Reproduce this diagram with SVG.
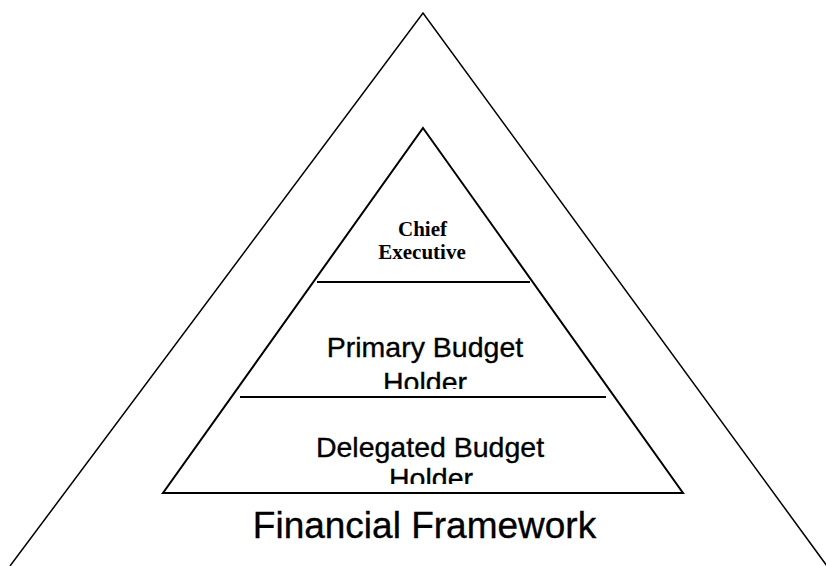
<svg xmlns="http://www.w3.org/2000/svg" width="826" height="566" viewBox="0 0 826 566">
  <style>
    .edge { fill: none; stroke: #000; stroke-linejoin: miter; }
    .outer { stroke-width: 1.5; }
    .inner { stroke-width: 2; }
    .divider { stroke: #000; stroke-width: 2; }
    .sans { font-family: "Liberation Sans", Arial, sans-serif; fill: #000; stroke: #000; stroke-width: 0.35; text-anchor: middle; }
    .serif { font-family: "Liberation Serif", "Times New Roman", serif; font-weight: bold; font-size: 21px; fill: #000; text-anchor: middle; }
    .tier { font-size: 28.5px; }
    .frame { font-size: 37px; }
  </style>
  <defs>
    <!-- the second line of each tier label is cut off just above the tier floor -->
    <clipPath id="clip-primary"><rect x="0" y="300" width="826" height="89"/></clipPath>
    <clipPath id="clip-delegated"><rect x="0" y="400" width="826" height="84"/></clipPath>
  </defs>
  <rect width="826" height="566" fill="#fff"/>

  <!-- outer framework triangle, open at the bottom edge of the canvas -->
  <g id="financial-framework">
    <polyline class="edge outer" points="10,566 423,13 827,566"/>
    <text class="sans frame" x="424.5" y="538">Financial Framework</text>
  </g>

  <!-- inner pyramid outline -->
  <g id="pyramid">
    <polygon class="edge inner" points="423,128 683,493 163,493"/>
  </g>

  <g id="chief-executive">
    <text class="serif" x="422.5" y="236">Chief</text>
    <text class="serif" x="422" y="259">Executive</text>
  </g>

  <g id="primary-budget-holder">
    <line class="divider" x1="317" y1="282" x2="530" y2="282"/>
    <g clip-path="url(#clip-primary)">
      <text class="sans tier" x="425" y="357">Primary Budget</text>
      <text class="sans tier" x="425" y="392">Holder</text>
    </g>
  </g>

  <g id="delegated-budget-holder">
    <line class="divider" x1="240" y1="397" x2="606" y2="397"/>
    <g clip-path="url(#clip-delegated)">
      <text class="sans tier" x="430" y="457">Delegated Budget</text>
      <text class="sans tier" x="431" y="488">Holder</text>
    </g>
  </g>

  <g id="connectors"></g>
</svg>
